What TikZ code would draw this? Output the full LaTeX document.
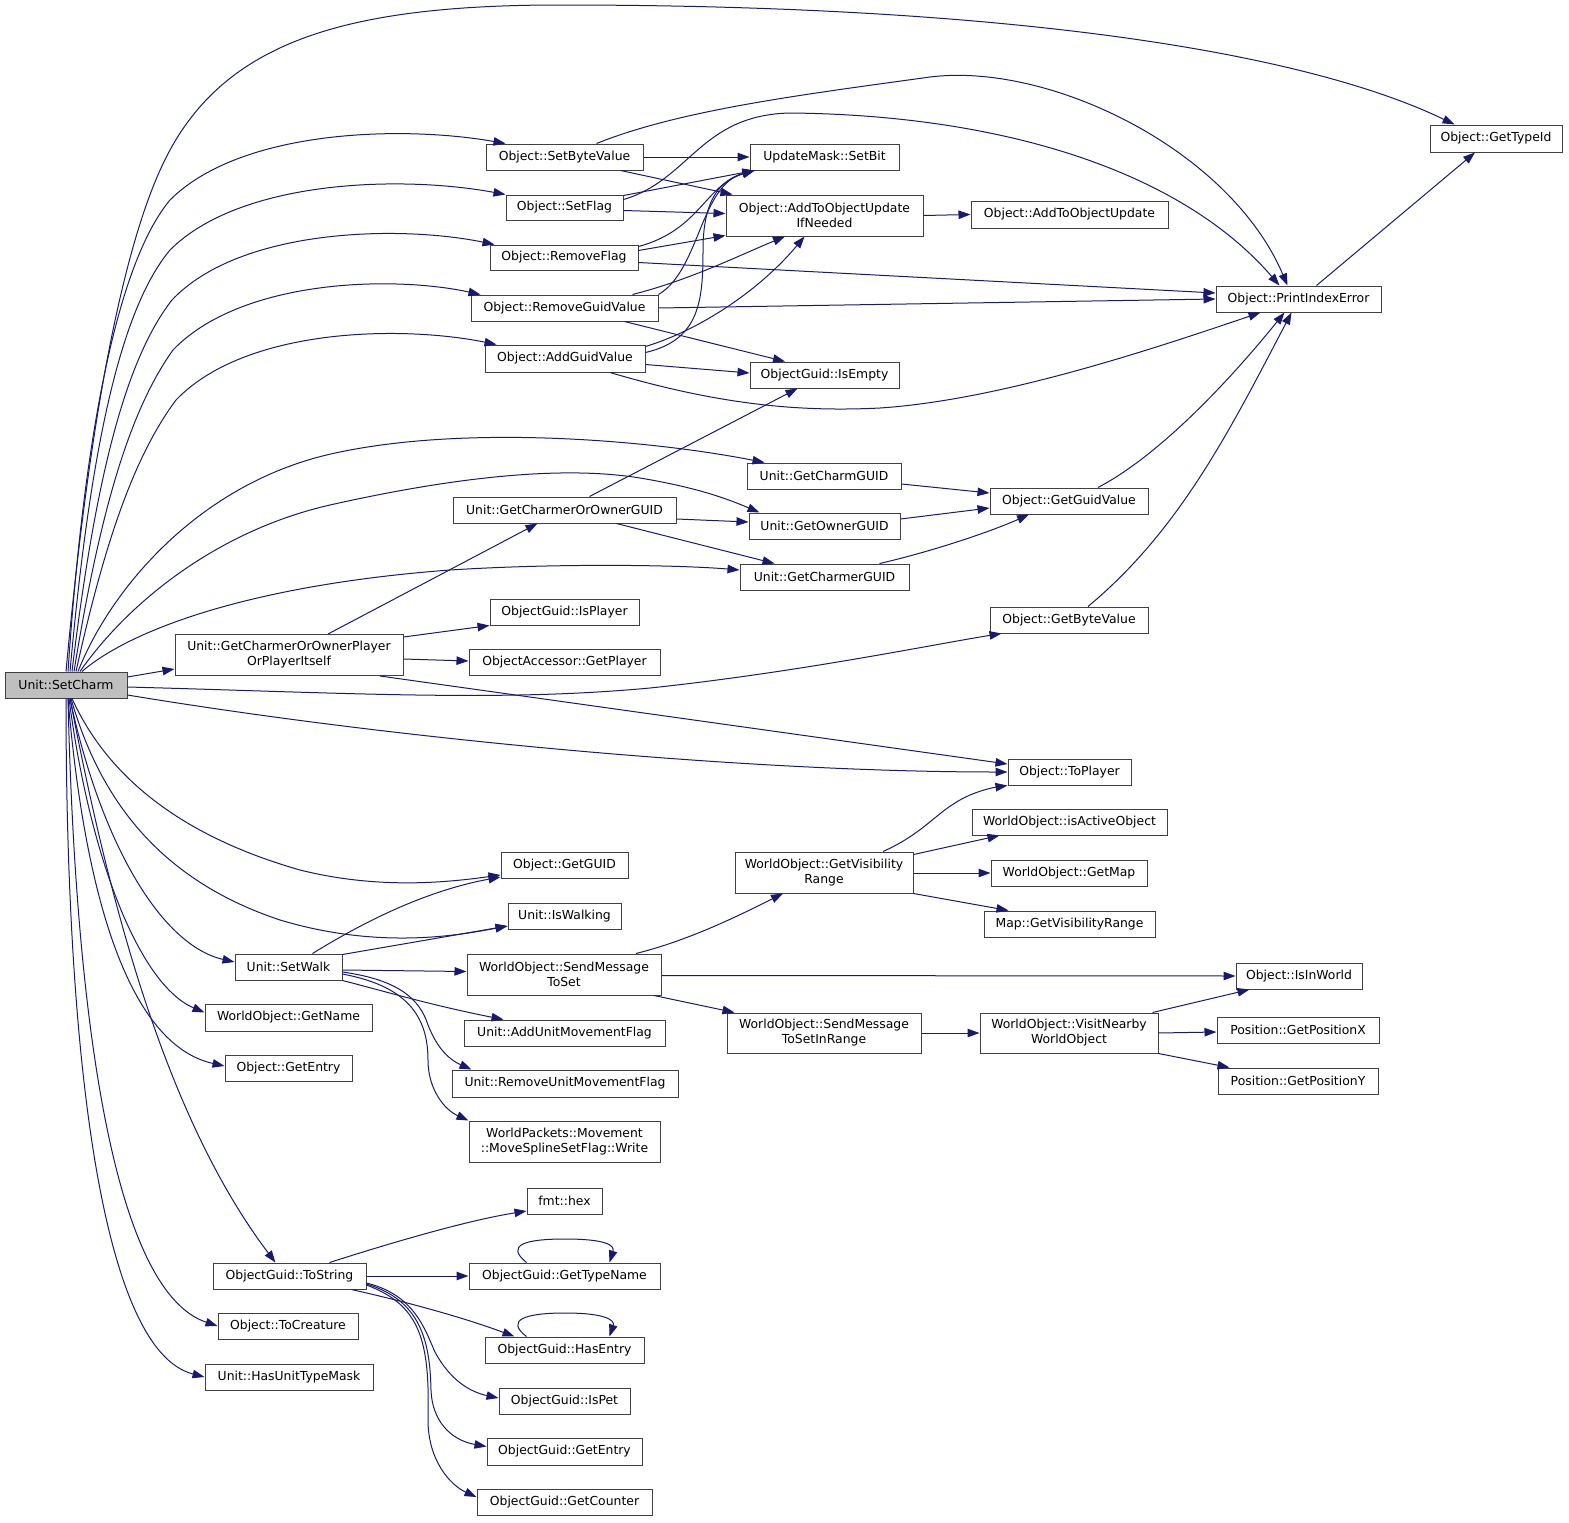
\documentclass[tikz,border=0pt]{standalone}
\usepackage{fontspec}
\newfontfamily\dvs{DejaVu Sans}
\usetikzlibrary{arrows.meta,calc}
\definecolor{edgec}{HTML}{191970}
\definecolor{rootfill}{HTML}{BFBFBF}
\definecolor{boxline}{HTML}{404040}
\begin{document}
\begin{tikzpicture}[x=1pt,y=-1pt,
  box/.style={draw=boxline, line width=1pt, fill=white, inner sep=0pt, minimum height=26pt, align=center, font=\dvs\fontsize{12.4}{15}\selectfont},
  conn/.style={draw=edgec, line width=1pt, -{Triangle[length=12pt,width=8.5pt]}}]
\useasboundingbox (0,0) rectangle (1569,1523);
% nodes
\node[box, fill=rootfill, minimum width=122pt] (setcharm) at (66,685) {Unit::SetCharm};
\node[box, minimum width=132pt, minimum height=27pt] (gettypeid) at (1496,138.5) {Object::GetTypeId};
\node[box, minimum width=157pt] (setbyte) at (564.5,157) {Object::SetByteValue};
\node[box, minimum width=149pt] (setbit) at (824.5,157) {UpdateMask::SetBit};
\node[box, minimum width=117pt, minimum height=25pt] (setflag) at (564.5,207.5) {Object::SetFlag};
\node[box, minimum width=197pt, minimum height=41pt] (addtoupdif) at (824.5,215.5) {Object::AddToObjectUpdate\\IfNeeded};
\node[box, minimum width=197pt, minimum height=27pt] (addtoupd) at (1069.5,214.5) {Object::AddToObjectUpdate};
\node[box, minimum width=148pt, minimum height=25pt] (removeflag) at (564,257.5) {Object::RemoveFlag};
\node[box, minimum width=165pt] (printidx) at (1298.5,299) {Object::PrintIndexError};
\node[box, minimum width=187pt] (removeguid) at (564.5,308) {Object::RemoveGuidValue};
\node[box, minimum width=160pt, minimum height=27pt] (addguid) at (565,358.5) {Object::AddGuidValue};
\node[box, minimum width=149pt] (isempty) at (824.5,375) {ObjectGuid::IsEmpty};
\node[box, minimum width=154pt] (getcharmguid) at (824,476) {Unit::GetCharmGUID};
\node[box, minimum width=158pt] (getguidvalue) at (1069,501) {Object::GetGuidValue};
\node[box, minimum width=223pt] (getcoguid) at (564.5,510) {Unit::GetCharmerOrOwnerGUID};
\node[box, minimum width=151pt] (getownerguid) at (824.5,526) {Unit::GetOwnerGUID};
\node[box, minimum width=169pt] (getcharmerguid) at (824.5,577) {Unit::GetCharmerGUID};
\node[box, minimum width=149pt] (isplayer) at (564.5,612) {ObjectGuid::IsPlayer};
\node[box, minimum width=158pt] (getbytevalue) at (1069,620) {Object::GetByteValue};
\node[box, minimum width=228pt, minimum height=41pt] (gcoppi) at (289,655) {Unit::GetCharmerOrOwnerPlayer\\OrPlayerItself};
\node[box, minimum width=191pt] (getplayer) at (564.5,662) {ObjectAccessor::GetPlayer};
\node[box, minimum width=123pt] (toplayer) at (1069.5,772) {Object::ToPlayer};
\node[box, minimum width=195pt] (isactive) at (1069.5,822) {WorldObject::isActiveObject};
\node[box, minimum width=127pt] (getguid) at (564.5,865) {Object::GetGUID};
\node[box, minimum width=178pt, minimum height=41pt] (getvisrange) at (824,872.5) {WorldObject::GetVisibility\\Range};
\node[box, minimum width=156pt] (getmap) at (1069,873) {WorldObject::GetMap};
\node[box, minimum width=113pt] (iswalking) at (564.5,916) {Unit::IsWalking};
\node[box, minimum width=171pt] (mapvis) at (1069.5,924) {Map::GetVisibilityRange};
\node[box, minimum width=107pt] (setwalk) at (288.5,967) {Unit::SetWalk};
\node[box, minimum width=194pt, minimum height=41pt] (sendmsg) at (564,974.5) {WorldObject::SendMessage\\ToSet};
\node[box, minimum width=126pt] (isinworld) at (1299,976) {Object::IsInWorld};
\node[box, minimum width=167pt, minimum height=27pt] (getname) at (288.5,1017.5) {WorldObject::GetName};
\node[box, minimum width=201pt] (addumf) at (564.5,1033) {Unit::AddUnitMovementFlag};
\node[box, minimum width=194pt, minimum height=40pt] (sendmsgrange) at (824,1033) {WorldObject::SendMessage\\ToSetInRange};
\node[box, minimum width=178pt, minimum height=40pt] (visitnearby) at (1069,1033) {WorldObject::VisitNearby\\WorldObject};
\node[box, minimum width=162pt] (getposx) at (1298,1030) {Position::GetPositionX};
\node[box, minimum width=127pt] (getentry) at (288.5,1068) {Object::GetEntry};
\node[box, minimum width=226pt, minimum height=27pt] (removeumf) at (565,1083.5) {Unit::RemoveUnitMovementFlag};
\node[box, minimum width=160pt] (getposy) at (1298,1081) {Position::GetPositionY};
\node[box, minimum width=191pt, minimum height=41pt] (write) at (564.5,1141.5) {WorldPackets::Movement\\::MoveSplineSetFlag::Write};
\node[box, minimum width=75pt] (fmthex) at (564.5,1201) {fmt::hex};
\node[box, minimum width=153pt] (tostring) at (289.5,1276) {ObjectGuid::ToString};
\node[box, minimum width=191pt] (gettypename) at (564.5,1276) {ObjectGuid::GetTypeName};
\node[box, minimum width=140pt] (tocreature) at (288,1326) {Object::ToCreature};
\node[box, minimum width=159pt] (hasentry) at (564.5,1350) {ObjectGuid::HasEntry};
\node[box, minimum width=168pt] (hasutm) at (289,1377) {Unit::HasUnitTypeMask};
\node[box, minimum width=131pt] (ispet) at (564.5,1401) {ObjectGuid::IsPet};
\node[box, minimum width=155pt, minimum height=27pt] (guidgetentry) at (564.5,1451.5) {ObjectGuid::GetEntry};
\node[box, minimum width=175pt] (getcounter) at (564.5,1502) {ObjectGuid::GetCounter};
% SetCharm upward fan
\draw[conn] (setcharm.north) .. controls (80,520) and (110,260) .. (170,150) .. controls (230,40) and (350,5) .. (560,5) .. controls (1000,5) and (1300,50) .. ($(gettypeid.north west)+(25,0)$);
\draw[conn] ($(setcharm.north)+(2,0)$) .. controls (85,420) and (120,260) .. (170,200) .. controls (240,130) and (400,125) .. ($(setbyte.north west)+(20,0)$);
\draw[conn] ($(setcharm.north)+(4,0)$) .. controls (90,450) and (120,310) .. (170,250) .. controls (240,180) and (400,175) .. (setflag.north west);
\draw[conn] ($(setcharm.north)+(6,0)$) .. controls (95,480) and (125,360) .. (172,300) .. controls (240,228) and (400,225) .. ($(removeflag.north west)+(5,0)$);
\draw[conn] ($(setcharm.north)+(8,0)$) .. controls (100,510) and (130,410) .. (173,350) .. controls (240,280) and (390,275) .. ($(removeguid.north west)+(10,0)$);
\draw[conn] ($(setcharm.north)+(10,0)$) .. controls (105,540) and (135,455) .. (176,400) .. controls (245,328) and (400,325) .. ($(addguid.north west)+(12,0)$);
\draw[conn] ($(setcharm.north)+(12,0)$) .. controls (110,590) and (200,480) .. (340,452) .. controls (470,425) and (650,440) .. ($(getcharmguid.north west)+(18,0)$);
\draw[conn] ($(setcharm.north)+(14,0)$) .. controls (130,600) and (220,530) .. (330,505) .. controls (450,478) and (560,465) .. (640,478) .. controls (700,488) and (730,500) .. ($(getownerguid.north west)+(11,0)$);
\draw[conn] ($(setcharm.north)+(16,0)$) .. controls (130,630) and (250,585) .. (450,570) .. controls (560,563) and (680,565) .. ($(getcharmerguid.west)+(0,-7)$);
% SetCharm right side
\draw[conn] ($(setcharm.east)+(0,-8)$) -- ($(gcoppi.west)+(0,14)$);
\draw[conn] ($(setcharm.east)+(0,2)$) .. controls (350,693) and (500,702) .. (650,688) .. controls (800,672) and (930,645) .. ($(getbytevalue.south west)+(12,0)$);
\draw[conn] ($(setcharm.east)+(0,10)$) .. controls (400,740) and (750,772) .. (toplayer.west);
% SetCharm downward fan
\draw[conn] ($(setcharm.south)+(6,0)$) .. controls (100,760) and (160,830) .. (300,870) .. controls (380,890) and (450,882) .. ($(getguid.west)+(0,10)$);
\draw[conn] ($(setcharm.south)+(5,0)$) .. controls (100,800) and (160,880) .. (280,920) .. controls (380,950) and (460,935) .. ($(iswalking.west)+(0,10)$);
\draw[conn] ($(setcharm.south)+(4,0)$) .. controls (100,840) and (160,945) .. ($(setwalk.west)+(0,-5)$);
\draw[conn] ($(setcharm.south)+(3,0)$) .. controls (90,860) and (140,985) .. ($(getname.west)+(0,-5)$);
\draw[conn] ($(setcharm.south)+(2,0)$) .. controls (85,900) and (130,1045) .. ($(getentry.west)+(0,-2)$);
\draw[conn] ($(setcharm.south)+(4,0)$) .. controls (105,880) and (160,1110) .. ($(tostring.north)+(-14,0)$);
\draw[conn] ($(setcharm.south)+(2,0)$) .. controls (75,1000) and (110,1290) .. (tocreature.west);
\draw[conn] (setcharm.south) .. controls (66,1050) and (100,1350) .. (hasutm.west);
% SetByteValue
\draw[conn] (setbyte.east) -- (setbit.west);
\draw[conn] ($(setbyte.south east)+(-23,0)$) -- ($(addtoupdif.north west)+(7,0)$);
\draw[conn] ($(setbyte.north)+(32,0)$) .. controls (680,110) and (800,95) .. (930,77) .. controls (1050,62) and (1230,150) .. ($(printidx.north)+(-11,0)$);
% SetFlag
\draw[conn] ($(setflag.east)+(0,-12)$) -- ($(setbit.south west)+(5,0)$);
\draw[conn] ($(setflag.east)+(0,-8)$) .. controls (690,180) and (700,115) .. (790,113) .. controls (1000,115) and (1180,170) .. ($(printidx.north)+(-19,0)$);
\draw[conn] ($(setflag.east)+(0,3)$) -- ($(addtoupdif.west)+(0,-2)$);
% RemoveFlag
\draw[conn] ($(removeflag.north east)+(0,2)$) .. controls (700,230) and (705,185) .. ($(setbit.south west)+(5,0)$);
\draw[conn] ($(removeflag.east)+(0,-7)$) -- ($(addtoupdif.south west)+(0,-1)$);
\draw[conn] ($(removeflag.east)+(0,5)$) -- ($(printidx.west)+(0,-6)$);
% RemoveGuidValue
\draw[conn] (removeguid.north east) .. controls (700,270) and (700,185) .. ($(setbit.south west)+(5,0)$);
\draw[conn] ($(removeguid.north)+(68,0)$) .. controls (690,280) and (740,255) .. ($(addtoupdif.south)+(-39.5,0)$);
\draw[conn] (removeguid.east) -- (printidx.west);
\draw[conn] ($(removeguid.south)+(60,0)$) -- ($(isempty.north)+(-39.5,0)$);
% AddGuidValue
\draw[conn] ($(addguid.east)+(0,-6)$) .. controls (700,340) and (703,300) .. (703,250) .. controls (703,200) and (720,180) .. ($(setbit.south west)+(5,0)$);
\draw[conn] ($(addguid.north east)+(0,2)$) .. controls (700,330) and (760,290) .. ($(addtoupdif.south)+(-20,0)$);
\draw[conn] ($(addguid.east)+(0,6)$) -- ($(isempty.west)+(0,-2)$);
\draw[conn] ($(addguid.south)+(45,0)$) .. controls (720,405) and (800,412) .. (880,408) .. controls (1000,400) and (1150,350) .. ($(printidx.south)+(-38,0)$);
% AddToObjectUpdateIfNeeded, PrintIndexError
\draw[conn] (addtoupdif.east) -- (addtoupd.west);
\draw[conn] ($(printidx.north)+(18,0)$) -- ($(gettypeid.south)+(-21,0)$);
% GUID getters
\draw[conn] ($(getcharmguid.east)+(0,8)$) -- ($(getguidvalue.west)+(0,-8)$);
\draw[conn] ($(getownerguid.east)+(0,-7)$) -- ($(getguidvalue.west)+(0,7)$);
\draw[conn] ($(getcharmerguid.north)+(55,0)$) .. controls (930,552) and (990,532) .. ($(getguidvalue.south)+(-40,0)$);
\draw[conn] ($(getguidvalue.north)+(29,0)$) .. controls (1160,455) and (1230,380) .. ($(printidx.south)+(-14,0)$);
\draw[conn] ($(getbytevalue.north)+(19,0)$) .. controls (1180,530) and (1230,430) .. ($(printidx.south)+(-7,0)$);
% GetCharmerOrOwnerGUID
\draw[conn] ($(getcoguid.north)+(25,0)$) -- ($(isempty.south)+(-27,0)$);
\draw[conn] ($(getcoguid.east)+(0,9)$) -- ($(getownerguid.west)+(0,-4)$);
\draw[conn] ($(getcoguid.south)+(52,0)$) -- ($(getcharmerguid.north)+(-50,0)$);
% GetCharmerOrOwnerPlayerOrPlayerItself
\draw[conn] ($(gcoppi.north)+(39,0)$) -- ($(getcoguid.south)+(-27,0)$);
\draw[conn] ($(gcoppi.north east)+(0,3)$) -- (isplayer.south west);
\draw[conn] ($(gcoppi.east)+(0,4)$) -- ($(getplayer.west)+(0,-1)$);
\draw[conn] ($(gcoppi.south)+(91,0)$) -- ($(toplayer.west)+(0,-8)$);
% GetVisibilityRange
\draw[conn] ($(getvisrange.north)+(59,0)$) .. controls (920,835) and (935,815) .. (955,803) .. controls (970,793) and (990,788) .. (toplayer.south west);
\draw[conn] ($(getvisrange.north east)+(0,3)$) -- ($(isactive.south west)+(28,0)$);
\draw[conn] ($(getvisrange.east)+(0,0.5)$) -- (getmap.west);
\draw[conn] (getvisrange.south east) -- ($(mapvis.north west)+(25,0)$);
% SendMessageToSet
\draw[conn] ($(sendmsg.north)+(72,0)$) .. controls (690,940) and (740,915) .. ($(getvisrange.south)+(-41,0)$);
\draw[conn] ($(sendmsg.east)+(0,1)$) -- (isinworld.west);
\draw[conn] ($(sendmsg.south)+(90,0)$) -- ($(sendmsgrange.north west)+(8,0)$);
\draw[conn] (sendmsgrange.east) -- (visitnearby.west);
\draw[conn] ($(visitnearby.north east)+(-6,0)$) -- ($(isinworld.south west)+(14,0)$);
\draw[conn] (visitnearby.east) -- ($(getposx.west)+(0,2)$);
\draw[conn] (visitnearby.south east) -- ($(getposy.north west)+(12,0)$);
% SetWalk
\draw[conn] ($(setwalk.north)+(24,0)$) .. controls (370,918) and (430,890) .. ($(getguid.west)+(0,12)$);
\draw[conn] ($(setwalk.north east)+(0,1)$) -- ($(iswalking.west)+(0,10)$);
\draw[conn] ($(setwalk.east)+(0,3)$) -- ($(sendmsg.west)+(0,-3)$);
\draw[conn] (setwalk.south east) .. controls (380,990) and (430,1005) .. ($(addumf.north west)+(40,0)$);
\draw[conn] ($(setwalk.east)+(0,5)$) .. controls (400,980) and (420,1000) .. (428,1025) .. controls (438,1050) and (450,1060) .. ($(removeumf.north west)+(20,0)$);
\draw[conn] ($(setwalk.east)+(0,7)$) .. controls (400,985) and (428,1010) .. (428,1060) .. controls (428,1090) and (445,1110) .. (write.north west);
% ToString
\draw[conn] ($(tostring.north)+(40,0)$) .. controls (400,1240) and (470,1220) .. ($(fmthex.west)+(0,10)$);
\draw[conn] (tostring.east) -- (gettypename.west);
\draw[conn] ($(tostring.south east)+(-15,0)$) .. controls (420,1305) and (470,1320) .. ($(hasentry.north west)+(30,0)$);
\draw[conn] ($(tostring.east)+(0,7)$) .. controls (415,1295) and (425,1330) .. (435,1352) .. controls (450,1380) and (470,1392) .. ($(ispet.west)+(0,-3)$);
\draw[conn] ($(tostring.east)+(0,8)$) .. controls (420,1300) and (430,1340) .. (431,1390) .. controls (432,1420) and (450,1440) .. ($(guidgetentry.west)+(0,-5)$);
\draw[conn] ($(tostring.east)+(0,9)$) .. controls (420,1305) and (430,1340) .. (428,1420) .. controls (428,1460) and (450,1485) .. ($(getcounter.west)+(0,-5)$);
% self loops
\draw[conn] ($(gettypename.north)+(-38,0)$) .. controls (505,1245) and (525,1239) .. (565,1239) .. controls (605,1239) and (615,1245) .. ($(gettypename.north)+(45,0)$);
\draw[conn] ($(hasentry.north)+(-38,0)$) .. controls (505,1320) and (525,1313) .. (565,1313) .. controls (605,1313) and (615,1320) .. ($(hasentry.north)+(45,0)$);
\end{tikzpicture}
\end{document}
